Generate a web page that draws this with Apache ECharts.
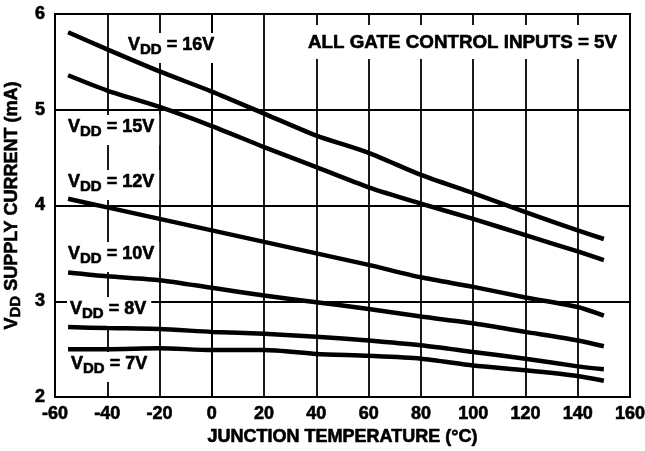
<!DOCTYPE html>
<html>
<head>
<meta charset="utf-8">
<script src="https://cdn.jsdelivr.net/npm/echarts@6/dist/echarts.min.js"></script>
<style>
html,body{margin:0;padding:0;background:#fff;}
#chart{width:645px;height:451px;}
</style>
</head>
<body>
<div id="chart"></div>
<script>
// junction temperature (°C) at which the curves were read
var temps  = [-55, -40, -20, 0, 20, 40, 60, 80, 100, 120, 140, 150];

// supply current (mA) for each VDD
var vdd16 = [5.81, 5.63, 5.40, 5.19, 4.96, 4.73, 4.55, 4.32, 4.13, 3.93, 3.74, 3.65];
var vdd15 = [5.36, 5.20, 5.03, 4.83, 4.61, 4.40, 4.19, 4.02, 3.86, 3.69, 3.52, 3.43];
var vdd12 = [4.07, 3.98, 3.86, 3.74, 3.62, 3.50, 3.38, 3.25, 3.15, 3.04, 2.94, 2.85];
var vdd10 = [3.30, 3.26, 3.22, 3.14, 3.06, 2.99, 2.92, 2.84, 2.77, 2.68, 2.59, 2.53];
var vdd8  = [2.73, 2.72, 2.71, 2.68, 2.66, 2.63, 2.59, 2.54, 2.47, 2.40, 2.32, 2.29];
var vdd7  = [2.50, 2.50, 2.51, 2.49, 2.49, 2.45, 2.43, 2.40, 2.33, 2.28, 2.22, 2.17];

var curveNames = ['16V', '15V', '12V', '10V', '8V', '7V'];
var curveData  = [vdd16, vdd15, vdd12, vdd10, vdd8, vdd7];
var noteText   = 'ALL GATE CONTROL INPUTS = 5V';

var FONT = 'Liberation Sans, Arial, Helvetica, sans-serif';
// a thin outline makes the bold type as heavy as the printed original
var INK = {color: '#000', fontSize: 18, fontWeight: 'bold', fontFamily: FONT,
           textBorderColor: '#000', textBorderWidth: 0.6};

function pairs(ys){
    var out = [];
    for (var i = 0; i < temps.length; i++) out.push([temps[i], ys[i]]);
    return out;
}

// where each curve label sits (box top-left, px)
var labelPos = [[125, 33], [65, 115], [65, 170], [65, 242], [67, 297], [68, 352]];

var series = [];
for (var i = 0; i < curveNames.length; i++) {
    series.push({
        name: curveNames[i],
        type: 'line',
        data: pairs(curveData[i]),
        showSymbol: false,
        smooth: 0.25,
        lineStyle: {color: '#000', width: 4.5, cap: 'butt'},
        z: 3
    });
}

var tokV = {fontSize: 18, fontWeight: 'bold', fontFamily: FONT, fill: '#000', stroke: '#000', lineWidth: 0.6};
var tokS = {fontSize: 15, fontWeight: 'bold', fontFamily: FONT, fill: '#000', stroke: '#000', lineWidth: 0.6, padding: [8, 0, 0, 0]};

var graphics = [];
for (var j = 0; j < curveNames.length; j++) {
    graphics.push({
        type: 'text',
        left: labelPos[j][0],
        top: labelPos[j][1],
        z: 1,
        style: {
            text: '{v|V}{s|DD}{v| = ' + curveNames[j] + '}',
            backgroundColor: '#fff',
            padding: [1, 5, 6, 3],
            rich: {v: tokV, s: tokS}
        }
    });
}
graphics.push({
    type: 'text',
    left: 305,
    top: 25,
    z: 1,
    style: {
        text: noteText,
        backgroundColor: '#fff',
        padding: [8, 6, 7, 3],
        fontSize: 18.8,
        fontWeight: 'bold',
        fontFamily: FONT,
        fill: '#000',
        stroke: '#000',
        lineWidth: 0.6
    }
});

var chart = echarts.init(document.getElementById('chart'), null, {renderer: 'canvas'});
chart.setOption({
    animation: false,
    backgroundColor: '#fff',
    grid: {
        left: 55, right: 15, top: 14, bottom: 54,
        outerBoundsMode: 'none',
        containLabel: false,
        show: true,
        borderColor: '#000',
        borderWidth: 2,
        backgroundColor: 'transparent'
    },
    xAxis: {
        type: 'value',
        min: -60, max: 160, interval: 20,
        name: 'JUNCTION TEMPERATURE (°C)',
        nameLocation: 'middle',
        nameGap: 17,
        nameTextStyle: INK,
        axisLine: {show: true, lineStyle: {color: '#000', width: 2}},
        axisTick: {show: false},
        axisLabel: Object.assign({margin: 8}, INK),
        splitLine: {show: true, lineStyle: {color: '#000', width: 1.8}}
    },
    yAxis: {
        type: 'value',
        min: 2, max: 6, interval: 1,
        name: '{v|V}{s|DD}{v| SUPPLY CURRENT (mA)}',
        nameLocation: 'middle',
        nameGap: 29,
        nameRotate: 90,
        nameTextStyle: {
            rich: {
                v: INK,
                s: Object.assign({}, INK, {fontSize: 15, padding: [8, 0, 0, 0]})
            }
        },
        axisLine: {show: true, lineStyle: {color: '#000', width: 2}},
        axisTick: {show: false},
        axisLabel: Object.assign({margin: 10}, INK),
        splitLine: {show: true, lineStyle: {color: '#000', width: 1.8}}
    },
    graphic: graphics,
    series: series
});
</script>
</body>
</html>
